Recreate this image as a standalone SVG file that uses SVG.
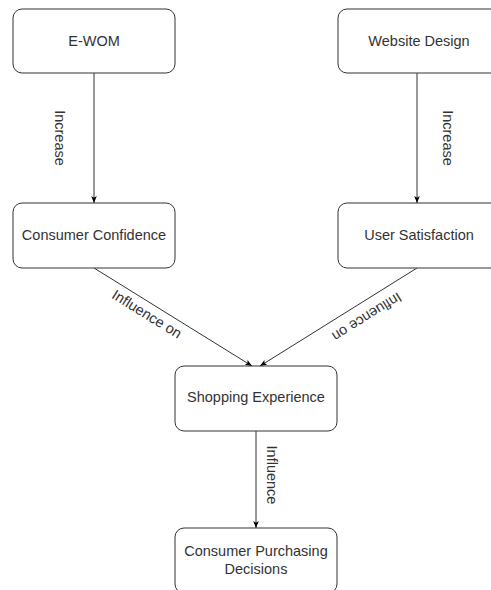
<svg xmlns="http://www.w3.org/2000/svg" width="491" height="590" viewBox="0 0 491 590">
<style>
.box{fill:#fff;stroke:#333;stroke-width:1}
.t{font-family:"Liberation Sans",Arial,sans-serif;font-size:14.5px;fill:#333;text-anchor:middle;dominant-baseline:central}
.c{fill:none;stroke:#333;stroke-width:1}
</style>
<defs>
<marker id="ah" viewBox="0 0 10 10" refX="10" refY="5" markerWidth="7" markerHeight="7" orient="auto" markerUnits="userSpaceOnUse">
<path d="M0,1 L10,5 L0,9 L2.5,5 Z" fill="#000"/>
</marker>
</defs>
<rect width="491" height="590" fill="#fff"/>
<g id="connectors">
<line class="c" x1="94" y1="73" x2="94" y2="203" marker-end="url(#ah)"/>
<line class="c" x1="417" y1="73" x2="417" y2="203" marker-end="url(#ah)"/>
<line class="c" x1="94" y1="268" x2="252" y2="366" marker-end="url(#ah)"/>
<line class="c" x1="417" y1="268" x2="260" y2="366" marker-end="url(#ah)"/>
<line class="c" x1="256" y1="431" x2="256" y2="528" marker-end="url(#ah)"/>
<text class="t" transform="translate(60,138) rotate(90)">Increase</text>
<text class="t" transform="translate(448,138) rotate(90)">Increase</text>
<text class="t" transform="translate(147,314) rotate(31.8)">Influence on</text>
<text class="t" transform="translate(367,317) rotate(148)">Influence on</text>
<text class="t" transform="translate(272,475) rotate(90)">Influence</text>
</g>
<g id="ewom"><rect class="box" x="13" y="9" width="162" height="64" rx="9"/><text class="t" x="94" y="41">E-WOM</text></g>
<g id="website"><rect class="box" x="338" y="9" width="162" height="64" rx="9"/><text class="t" x="419" y="41">Website Design</text></g>
<g id="confidence"><rect class="box" x="13" y="203" width="162" height="65" rx="9"/><text class="t" x="94" y="235">Consumer Confidence</text></g>
<g id="satisfaction"><rect class="box" x="338" y="203" width="162" height="65" rx="9"/><text class="t" x="419" y="235">User Satisfaction</text></g>
<g id="shopping"><rect class="box" x="175" y="366" width="162" height="65" rx="9"/><text class="t" x="256" y="397">Shopping Experience</text></g>
<g id="decisions"><rect class="box" x="175" y="528" width="162" height="65" rx="9"/><text class="t" x="256" y="551">Consumer Purchasing</text><text class="t" x="256" y="569">Decisions</text></g>
</svg>
